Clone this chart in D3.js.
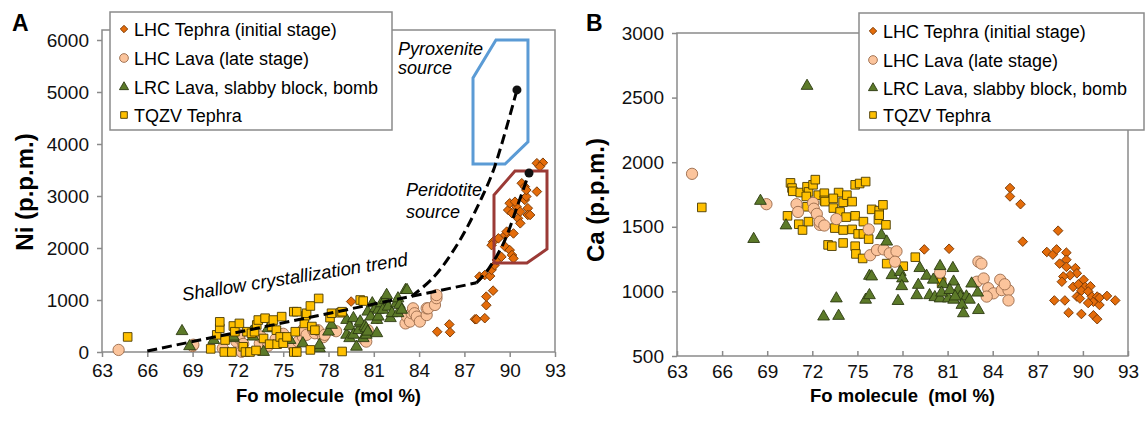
<!DOCTYPE html>
<html>
<head>
<meta charset="utf-8">
<script src="https://cdn.jsdelivr.net/npm/d3@7"></script>
<style>
body { margin: 0; background: #fff; }
svg { display: block; font-family: Arial, "Liberation Sans", sans-serif; }
</style>
</head>
<body>
<div id="chart"></div>
<script>
// series names (legend order)
var seriesNames = ["LHC Tephra (initial stage)", "LHC Lava (late stage)", "LRC Lava, slabby block, bomb", "TQZV Tephra"];

// ticks
var foTicks = [63, 66, 69, 72, 75, 78, 81, 84, 87, 90, 93];
var niTicks = [0, 1000, 2000, 3000, 4000, 5000, 6000];
var caTicks = [500, 1000, 1500, 2000, 2500, 3000];

// panel A : Fo vs Ni
var niTephra = [[79.5,970],[81.25,630],[85.2,390],[86.0,530],[86.05,380],[87.7,630],[87.8,630],[88.35,650],[88.45,900],[88.45,1065],[88.0,1450],[88.35,1480],[88.7,1460],[88.8,1580],[88.9,1180],[89.0,1670],[89.15,1770],[89.45,1830],[89.7,2025],[90.0,1960],[90.15,1865],[90.25,1800],[88.9,2120],[89.25,2185],[88.8,2055],[89.7,2250],[89.8,2315],[90.25,2280],[89.9,2730],[90.0,2860],[90.15,2670],[90.45,2795],[90.55,2570],[90.7,2700],[90.35,2890],[91.0,2925],[91.2,2765],[91.2,2635],[91.1,2990],[90.8,3245],[91.0,3180],[91.1,3115],[91.8,3085],[91.8,3630],[92.2,3640],[92.0,3565],[91.35,2635],[90.7,2475]];
var niLava = [[64.1,40],[69.0,115],[69.05,140],[71.0,70],[71.9,200],[72.1,265],[72.1,330],[72.25,5],[72.35,155],[73.45,165],[73.5,300],[74.0,120],[74.5,250],[75.0,350],[75.7,100],[76.0,200],[76.3,295],[76.3,420],[76.55,330],[77.0,420],[77.1,360],[77.3,420],[77.65,285],[77.75,330],[78.5,400],[80.4,230],[80.5,200],[80.6,420],[83.1,550],[83.2,680],[83.4,585],[83.5,745],[83.6,840],[83.7,745],[83.85,680],[84.05,585],[84.5,710],[84.5,840],[84.6,840],[85.05,905],[85.15,1035],[85.15,1095]];
var niLrc = [[68.3,400],[68.8,110],[70.4,230],[71.7,265],[71.7,295],[72.9,390],[73.0,295],[73.7,0],[74.0,455],[75.45,230],[76.3,165],[77.4,70],[77.4,135],[78.0,390],[78.2,520],[79.2,330],[79.2,615],[79.4,265],[79.4,490],[79.65,330],[79.65,650],[79.85,100],[80.0,420],[80.1,550],[80.1,585],[80.3,265],[80.4,490],[80.5,455],[80.5,330],[80.6,390],[80.6,775],[80.8,680],[80.9,935],[81.1,840],[81.2,360],[81.2,615],[81.3,680],[81.3,810],[81.5,935],[81.6,810],[81.75,1000],[81.85,1095],[81.95,870],[82.1,650],[82.2,745],[82.5,935],[82.6,745],[82.6,1030],[82.7,905],[82.85,810],[83.1,1190],[83.2,1190]];
var niTqzv = [[64.7,290],[70.2,60],[70.6,330],[70.8,455],[70.8,580],[71.1,0],[71.15,230],[71.6,0],[71.7,500],[71.8,390],[72.1,550],[72.35,100],[72.5,0],[72.6,390],[72.8,0],[72.9,360],[73.1,390],[73.2,30],[73.25,520],[73.35,615],[73.7,260],[73.8,650],[74.1,150],[74.25,490],[74.35,615],[74.55,420],[74.6,150],[74.8,290],[74.9,680],[75.0,170],[75.25,290],[75.7,0],[75.7,775],[75.8,390],[75.9,775],[75.9,0],[76.4,550],[76.5,700],[76.55,745],[76.8,885],[76.8,40],[76.9,490],[77.1,420],[77.35,1030],[78.1,660],[78.2,745],[78.8,755],[78.9,775],[78.9,10],[80.1,1000],[80.3,980]];

// panel A fields and trends
var pyroxeniteField = [[89.09,6000],[91.21,6000],[91.21,4040],[89.69,3615],[87.57,3615],[87.57,5270]];
var peridotiteField = [[90.35,3480],[92.47,3480],[92.47,1980],[91.14,1710],[88.96,1710],[88.96,3020]];
var shallowTrend = [[66.0,20],[87.8,1330]];
var pyroxeniteTrend = [[83.5,1070],[85.0,1450],[86.7,2150],[88.2,3000],[89.0,3560],[90.48,5040]];
var peridotiteTrend = [[87.8,1330],[88.6,1600],[89.6,2100],[90.5,2800],[91.28,3440]];
var trendEnds = [[90.48,5040],[91.28,3440]];

// panel B : Fo vs Ca
var caTephra = [[79.45,1325],[81.1,1330],[85.15,1800],[85.15,1735],[85.85,1675],[86.0,1385],[88.35,1470],[87.6,1305],[88.0,1285],[88.25,1325],[88.9,1300],[88.9,1245],[88.45,1215],[88.9,1190],[89.5,1180],[89.6,1140],[89.15,1125],[88.7,1115],[88.6,1075],[89.35,1035],[89.7,1055],[90.05,1090],[90.15,1035],[90.5,1040],[89.9,1005],[89.6,960],[89.8,945],[90.35,1000],[90.6,960],[90.7,920],[90.95,960],[91.1,895],[91.1,950],[91.6,965],[92.15,930],[90.35,910],[88.1,930],[88.8,930],[89.05,835],[89.9,825],[90.7,815],[90.95,785]];
var caLava = [[64.0,1910],[68.95,1675],[70.95,1675],[71.05,1615],[72.05,1685],[72.1,1640],[72.3,1600],[72.5,1515],[72.5,1540],[72.8,1510],[73.6,1560],[75.75,1480],[75.85,1280],[76.3,1320],[76.75,1325],[77.15,1295],[77.6,1310],[77.5,1230],[80.5,1145],[83.05,1230],[83.25,1215],[82.95,1075],[83.4,1100],[83.7,1025],[84.05,985],[84.5,1090],[84.6,1010],[85.05,1010],[85.05,930],[84.8,1055],[83.6,960]];
var caLrc = [[68.55,1700],[68.1,1405],[70.25,1510],[71.65,2590],[72.75,805],[73.75,810],[73.6,945],[75.55,935],[77.7,925],[76.6,1435],[76.95,1385],[75.8,1120],[75.95,1115],[77.3,1125],[77.85,1150],[78.0,1100],[77.95,1040],[79.15,1180],[79.05,1050],[78.95,970],[75.8,970],[79.6,1120],[80.5,1195],[80.7,1055],[80.05,1090],[81.35,1180],[81.4,1075],[81.7,1010],[81.85,960],[82.25,960],[82.45,935],[81.95,895],[83.05,855],[82.05,830],[79.8,970],[80.15,955],[80.5,945],[81.05,945],[81.4,935],[80.6,990],[81.15,1010],[81.5,960],[82.6,1060],[83.0,990]];
var caTqzv = [[64.65,1650],[70.55,1840],[70.65,1800],[70.7,1775],[71.2,1765],[71.65,1810],[71.75,1770],[72.05,1825],[72.2,1865],[71.6,1735],[72.4,1745],[70.35,1585],[71.1,1520],[71.35,1475],[71.75,1540],[71.65,1655],[72.8,1760],[72.8,1705],[73.05,1360],[74.85,1825],[75.15,1835],[75.55,1850],[72.85,1695],[73.75,1765],[74.05,1690],[74.3,1745],[74.65,1695],[73.4,1720],[73.4,1645],[73.85,1615],[74.25,1575],[74.85,1585],[75.4,1540],[75.95,1635],[76.45,1625],[76.7,1670],[76.4,1555],[76.45,1590],[76.9,1515],[73.5,1490],[74.05,1475],[74.65,1480],[75.05,1445],[75.4,1445],[75.75,1405],[73.3,1350],[74.05,1375],[74.85,1350],[74.9,1290],[75.35,1255],[76.95,1215],[78.05,1195],[78.85,1265],[80.5,1125],[80.6,1070]];

var svgWidth = 1145, svgHeight = 421;

var svg = d3.select("#chart").append("svg")
  .attr("width", svgWidth)
  .attr("height", svgHeight);

// marker look per series
var markers = [
  {type: d3.symbolSquare, size: 46, rot: 45, fill: "#E46C0A", stroke: "#7A3A05"},
  {type: d3.symbolCircle, size: 100, rot: 0, fill: "#FBC49C", stroke: "#9A6A4A"},
  {type: d3.symbolTriangle, size: 60, rot: 0, fill: "#5C7A29", stroke: "#2C3A12"},
  {type: d3.symbolSquare, size: 74, rot: 0, fill: "#FFC000", stroke: "#4A3A00"}
];

function drawPoints(g, data, m, x, y) {
  g.append("g").selectAll("path")
    .data(data)
    .enter()
    .append("path")
    .attr("d", d3.symbol().type(m.type).size(m.size))
    .attr("transform", d => `translate(${x(d[0])},${y(d[1])}) rotate(${m.rot})`)
    .attr("fill", m.fill)
    .attr("stroke", m.stroke)
    .attr("stroke-width", 0.9);
}

function drawLegend(left, top, w, h, rows) {
  var lg = svg.append("g");
  lg.append("rect")
    .attr("x", left).attr("y", top)
    .attr("width", w).attr("height", h)
    .attr("fill", "#fff").attr("stroke", "#8a8a8a").attr("stroke-width", 1.5);
  seriesNames.forEach(function(name, i) {
    var m = markers[i];
    lg.append("path")
      .attr("d", d3.symbol().type(m.type).size(m.size * 0.6))
      .attr("transform", `translate(${left + 14},${rows[i]}) rotate(${m.rot})`)
      .attr("fill", m.fill).attr("stroke", m.stroke).attr("stroke-width", 0.9);
    lg.append("text")
      .attr("x", left + 24).attr("y", rows[i] + 6.5)
      .attr("font-size", "18px")
      .text(name);
  });
}

function styleAxis(g) {
  g.select(".domain").remove();
  g.selectAll(".tick line").attr("stroke", "#8a8a8a").attr("stroke-width", 1.5);
  g.selectAll(".tick text").attr("font-size", "19px").attr("fill", "#111");
}

// ---------- panel A ----------
var xA = d3.scaleLinear().domain([63, 93]).range([102, 555]);
var yA = d3.scaleLinear().domain([0, 6000]).range([352, 40]);

var gA = svg.append("g");
gA.append("rect")
  .attr("x", xA(63)).attr("y", 30)
  .attr("width", xA(93) - xA(63)).attr("height", yA(0) - 30)
  .attr("fill", "none").attr("stroke", "#8a8a8a").attr("stroke-width", 1.5);

gA.append("g")
  .attr("transform", `translate(${xA(63)},0)`)
  .call(d3.axisLeft(yA).tickValues(niTicks).tickFormat(d3.format("d")).tickSize(5).tickPadding(8))
  .call(styleAxis);
gA.append("g")
  .attr("transform", `translate(0,${yA(0)})`)
  .call(d3.axisBottom(xA).tickValues(foTicks).tickFormat(d3.format("d")).tickSize(5).tickPadding(7))
  .call(styleAxis);

drawPoints(gA, niTephra, markers[0], xA, yA);
drawPoints(gA, niLava, markers[1], xA, yA);
drawPoints(gA, niLrc, markers[2], xA, yA);
drawPoints(gA, niTqzv, markers[3], xA, yA);

var polyLine = d3.line().x(d => xA(d[0])).y(d => yA(d[1]));
gA.append("path")
  .attr("d", polyLine(pyroxeniteField) + "Z")
  .attr("fill", "none").attr("stroke", "#5B9BD5").attr("stroke-width", 3);
gA.append("path")
  .attr("d", polyLine(peridotiteField) + "Z")
  .attr("fill", "none").attr("stroke", "#9B3A36").attr("stroke-width", 3);

var trendLine = d3.line().x(d => xA(d[0])).y(d => yA(d[1])).curve(d3.curveCatmullRom);
[shallowTrend, pyroxeniteTrend, peridotiteTrend].forEach(function(t) {
  gA.append("path")
    .attr("d", trendLine(t))
    .attr("fill", "none").attr("stroke", "#000")
    .attr("stroke-width", 3).attr("stroke-dasharray", "10,5");
});
gA.selectAll(".end")
  .data(trendEnds)
  .enter()
  .append("circle")
  .attr("cx", d => xA(d[0])).attr("cy", d => yA(d[1]))
  .attr("r", 4.5).attr("fill", "#111");

// annotations
var ann = gA.append("g").attr("font-size", "18px").attr("font-style", "italic");
ann.append("text").attr("x", 398).attr("y", 55).text("Pyroxenite");
ann.append("text").attr("x", 398).attr("y", 74).text("source");
ann.append("text").attr("x", 406).attr("y", 196).text("Peridotite");
ann.append("text").attr("x", 406).attr("y", 218).text("source");
ann.append("text")
  .attr("transform", "translate(183,301) rotate(-9)")
  .attr("font-size", "18.5px")
  .text("Shallow crystallization trend");

// axis titles
gA.append("text")
  .attr("transform", "translate(33,192) rotate(-90)")
  .attr("text-anchor", "middle").attr("font-weight", "bold").attr("font-size", "24px")
  .text("Ni (p.p.m.)");
gA.append("text")
  .attr("x", (xA(63) + xA(93)) / 2).attr("y", 402)
  .attr("text-anchor", "middle").attr("font-weight", "bold").attr("font-size", "18.5px")
  .style("white-space", "pre")
  .text("Fo molecule  (mol %)");
gA.append("text")
  .attr("x", 12).attr("y", 31)
  .attr("font-weight", "bold").attr("font-size", "23px")
  .text("A");

drawLegend(110, 12, 282, 118, [29, 58, 87, 115]);

// ---------- panel B ----------
var xB = d3.scaleLinear().domain([63, 93]).range([677, 1128]);
var yB = d3.scaleLinear().domain([500, 3000]).range([356, 33]);

var gB = svg.append("g");
gB.append("rect")
  .attr("x", xB(63)).attr("y", yB(3000))
  .attr("width", xB(93) - xB(63)).attr("height", yB(500) - yB(3000))
  .attr("fill", "none").attr("stroke", "#8a8a8a").attr("stroke-width", 1.5);

gB.append("g")
  .attr("transform", `translate(${xB(63)},0)`)
  .call(d3.axisLeft(yB).tickValues(caTicks).tickFormat(d3.format("d")).tickSize(5).tickPadding(8))
  .call(styleAxis);
gB.append("g")
  .attr("transform", `translate(0,${yB(500)})`)
  .call(d3.axisBottom(xB).tickValues(foTicks).tickFormat(d3.format("d")).tickSizeInner(-5).tickSizeOuter(0).tickPadding(9))
  .call(styleAxis);

drawPoints(gB, caTephra, markers[0], xB, yB);
drawPoints(gB, caTqzv, markers[3], xB, yB);
drawPoints(gB, caLava, markers[1], xB, yB);
drawPoints(gB, caLrc, markers[2], xB, yB);

gB.append("text")
  .attr("transform", "translate(604,200) rotate(-90)")
  .attr("text-anchor", "middle").attr("font-weight", "bold").attr("font-size", "24px")
  .text("Ca (p.p.m.)");
gB.append("text")
  .attr("x", (xB(63) + xB(93)) / 2).attr("y", 402)
  .attr("text-anchor", "middle").attr("font-weight", "bold").attr("font-size", "18.5px")
  .style("white-space", "pre")
  .text("Fo molecule  (mol %)");
gB.append("text")
  .attr("x", 586).attr("y", 31)
  .attr("font-weight", "bold").attr("font-size", "23px")
  .text("B");

drawLegend(859, 13, 285, 117, [31, 60, 88, 115]);
</script>
</body>
</html>
